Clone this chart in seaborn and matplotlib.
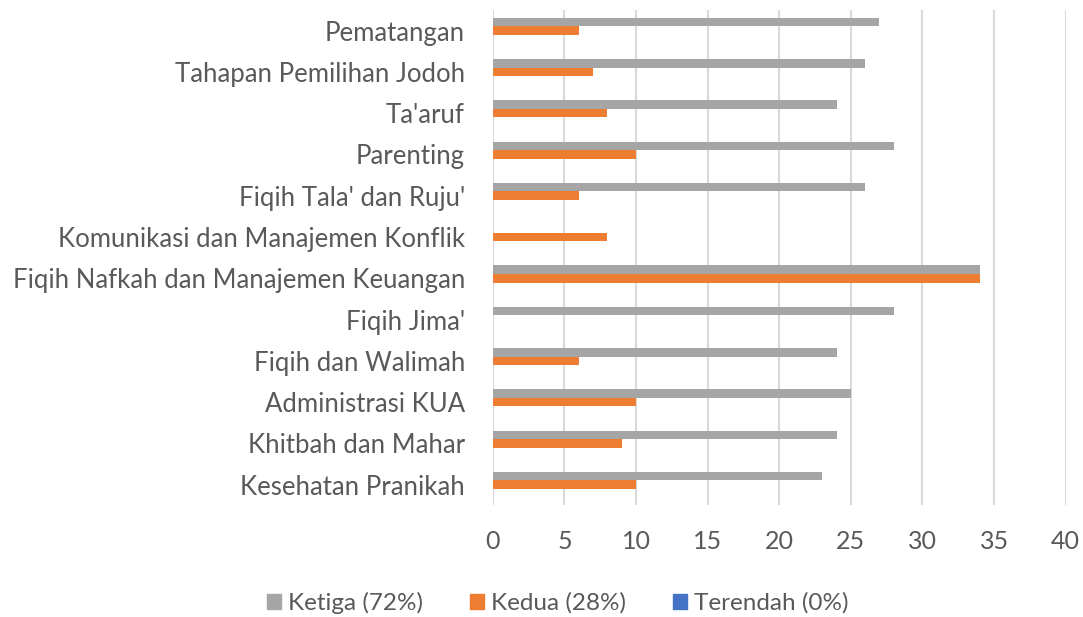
import pandas as pd
import seaborn as sns
import numpy as np
import matplotlib.pyplot as plt
from matplotlib.patches import Patch

topik = ['Pematangan', 'Tahapan Pemilihan Jodoh', "Ta'aruf", 'Parenting',
         "Fiqih Tala' dan Ruju'", 'Komunikasi dan Manajemen Konflik',
         'Fiqih Nafkah dan Manajemen Keuangan', "Fiqih Jima'",
         'Fiqih dan Walimah', 'Administrasi KUA', 'Khitbah dan Mahar',
         'Kesehatan Pranikah']
ketiga = [27, 26, 24, 28, 26, 0, 34, 28, 24, 25, 24, 23]
kedua = [6, 7, 8, 10, 6, 8, 34, 0, 6, 10, 9, 10]
terendah = [0, 0, 0, 0, 0, 0, 0, 0, 0, 0, 0, 0]
series = ['Ketiga (72%)', 'Kedua (28%)', 'Terendah (0%)']
warna = ['#A5A5A5', '#ED7D31', '#4472C4']

df = pd.concat([
    pd.DataFrame({'topik': topik, 'nilai': v, 'seri': s})
    for s, v in zip(series, [ketiga, kedua, terendah])
])

sns.set_style('white')
plt.rcParams['font.family'] = ['Lato', 'DejaVu Sans']

fig = plt.figure(figsize=(10.83, 6.17), dpi=100)
ax = fig.add_axes([0.455, 0.181, 0.529, 0.803])
sns.barplot(data=df, y='topik', x='nilai', hue='seri', hue_order=series,
            order=topik, palette=warna, saturation=1, orient='h', width=0.62,
            linewidth=0, ax=ax, legend=False)

ax.set_xlim(0, 40)
ax.set_xticks(np.arange(0, 41, 5))
ax.set_xlabel('')
ax.set_ylabel('')
ax.xaxis.grid(True, color='#D9D9D9', linewidth=1.5)
ax.set_axisbelow(True)
for sp in ax.spines.values():
    sp.set_visible(False)
ax.tick_params(axis='y', length=0, pad=20, labelsize=18.5, labelcolor='#595959')
ax.tick_params(axis='x', length=0, pad=18, labelsize=18, labelcolor='#595959')

handles = [Patch(color=c) for c in warna]
fig.legend(handles, series, loc='center', bbox_to_anchor=(0.515, 0.023),
           ncol=3, frameon=False, fontsize=17.5, labelcolor='#595959',
           handlelength=0.6, handleheight=0.6, handletextpad=0.3,
           columnspacing=1.9)

fig.savefig('out.png', dpi=100)
